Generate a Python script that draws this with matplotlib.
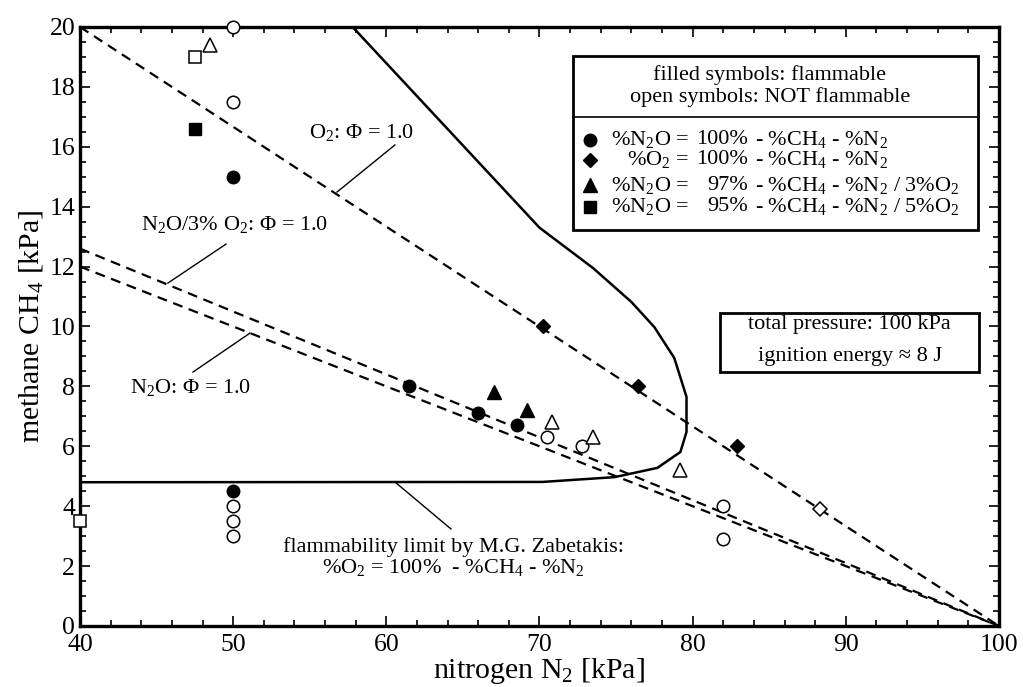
import matplotlib
matplotlib.use("Agg")
import matplotlib.pyplot as plt
from matplotlib.patches import Rectangle
from matplotlib.ticker import MultipleLocator

plt.rcParams["font.family"] = ["Liberation Serif", "DejaVu Serif"]
plt.rcParams["mathtext.fontset"] = "custom"
plt.rcParams["mathtext.rm"] = "Liberation Serif"
plt.rcParams["mathtext.it"] = "Liberation Serif:italic"

# --- data ---
n2o_fill_x = [50.0, 61.5, 66.0, 68.5, 50.0]
n2o_fill_y = [15.0, 8.0, 7.1, 6.7, 4.5]
n2o_open_x = [50.0, 50.0, 70.5, 72.8, 82.0, 82.0, 50.0, 50.0, 50.0]
n2o_open_y = [20.0, 17.5, 6.3, 6.0, 4.0, 2.9, 4.0, 3.5, 3.0]
o2_fill_x = [70.2, 76.4, 82.9]
o2_fill_y = [10.0, 8.0, 6.0]
o2_open_x = [88.3]
o2_open_y = [3.9]
tri_fill_x = [67.0, 69.2]
tri_fill_y = [7.8, 7.2]
tri_open_x = [48.5, 70.8, 73.5, 79.2]
tri_open_y = [19.4, 6.8, 6.3, 5.2]
sq_fill_x = [47.5]
sq_fill_y = [16.6]
sq_open_x = [47.5, 40.0]
sq_open_y = [19.0, 3.5]

# flammability limit (Zabetakis)
zab_x = [40.0, 70.2, 74.9, 77.7, 79.2, 79.6, 79.6, 78.8, 77.5, 76.0, 73.5, 70.0, 57.8]
zab_y = [4.8, 4.81, 4.97, 5.28, 5.81, 6.48, 7.65, 8.95, 9.98, 10.82, 11.95, 13.3, 20.0]

# stoichiometric lines (Phi = 1.0), end points
phi_x = [40.0, 100.0]
phi_o2_y = [20.0, 0.0]
phi_n2o3_y = [12.6, 0.0]
phi_n2o_y = [12.0, 0.0]

# leader lines for the labels
lead_o2 = ([60.56, 56.78], [16.06, 14.49])
lead_n2o3 = ([49.53, 45.74], [12.75, 11.45])
lead_n2o = ([47.38, 51.1], [8.48, 9.78])
lead_zab = ([60.56, 64.22], [4.81, 3.24])

fig = plt.figure(figsize=(10.23, 6.87), dpi=100)
ax = fig.add_axes([0.0782, 0.0888, 0.8983, 0.8719])

dash = dict(color="black", lw=1.6, ls=(0, (4.5, 3)))
ax.plot(phi_x, phi_o2_y, **dash)
ax.plot(phi_x, phi_n2o3_y, **dash)
ax.plot(phi_x, phi_n2o_y, **dash)
ax.plot(zab_x, zab_y, color="black", lw=1.8)

for lx, ly in (lead_o2, lead_n2o3, lead_n2o, lead_zab):
    ax.plot(lx, ly, color="black", lw=1.0)

mk = dict(ls="none", color="black", clip_on=False, zorder=5)
op = dict(ls="none", mfc="white", mec="black", mew=1.1, clip_on=False, zorder=5)
ax.plot(n2o_fill_x, n2o_fill_y, "o", ms=9, **mk)
ax.plot(n2o_open_x, n2o_open_y, "o", ms=9, **op)
ax.plot(o2_fill_x, o2_fill_y, "D", ms=7, **mk)
ax.plot(o2_open_x, o2_open_y, "D", ms=7, **op)
ax.plot(tri_fill_x, tri_fill_y, "^", ms=10, **mk)
ax.plot(tri_open_x, tri_open_y, "^", ms=10, **op)
ax.plot(sq_fill_x, sq_fill_y, "s", ms=9, **mk)
ax.plot(sq_open_x, sq_open_y, "s", ms=9, **op)

ax.set_xlim(40, 100)
ax.set_ylim(0, 20)
ax.xaxis.set_major_locator(MultipleLocator(10))
ax.xaxis.set_minor_locator(MultipleLocator(2))
ax.yaxis.set_major_locator(MultipleLocator(2))
ax.yaxis.set_minor_locator(MultipleLocator(0.5))
ax.tick_params(which="both", direction="in", top=True, right=True,
               labelsize=18.5, width=1.2)
ax.tick_params(which="major", length=7)
ax.tick_params(which="minor", length=4)
ax.tick_params(axis="x", pad=6)
for sp in ax.spines.values():
    sp.set_linewidth(2.4)

ax.set_xlabel("nitrogen N$_2$ [kPa]", fontsize=21.5, labelpad=0)
ax.set_ylabel("methane CH$_4$ [kPa]", fontsize=21.5, labelpad=3)

# line labels
fs = 16
ax.text(58.41, 16.49, "O$_2$: Φ = 1.0", fontsize=fs, ha="center", va="center")
ax.text(50.12, 13.39, "N$_2$O/3% O$_2$: Φ = 1.0", fontsize=fs, ha="center", va="center")
ax.text(47.25, 7.95, "N$_2$O: Φ = 1.0", fontsize=fs, ha="center", va="center")
ax.text(64.41, 2.64, "flammability limit by M.G. Zabetakis:", fontsize=fs,
        ha="center", va="center")
ax.text(64.35, 1.94, "%O$_2$ = 100%  - %CH$_4$ - %N$_2$", fontsize=fs,
        ha="center", va="center")

# symbol legend box
ax.add_patch(Rectangle((72.18, 13.22), 26.44, 5.81, fill=False, lw=2.0,
                       ec="black", zorder=6))
ax.plot([72.18, 98.62], [16.99, 16.99], color="black", lw=1.2, zorder=6)
lfs = 16
ax.text(85.04, 18.40, "filled symbols: flammable", fontsize=lfs, ha="center", va="center")
ax.text(85.04, 17.66, "open symbols: NOT flammable", fontsize=lfs, ha="center", va="center")

leg_y = [16.23, 15.56, 14.72, 13.99]
leg_marker = ["o", "D", "^", "s"]
leg_ms = [9, 7, 10, 9]
leg_left = ["%N$_2$O =", "%O$_2$ =", "%N$_2$O =", "%N$_2$O ="]
leg_pct = ["100%", "100%", "97%", "95%"]
leg_rest = ["- %CH$_4$ - %N$_2$", "- %CH$_4$ - %N$_2$",
            "- %CH$_4$ - %N$_2$ / 3%O$_2$", "- %CH$_4$ - %N$_2$ / 5%O$_2$"]
for y, m, ms, a, b, c in zip(leg_y, leg_marker, leg_ms, leg_left, leg_pct, leg_rest):
    ax.plot([73.29], [y], m, ms=ms, color="black", zorder=7)
    ax.text(79.75, y, a, fontsize=lfs, ha="right", va="center")
    ax.text(83.6, y, b, fontsize=lfs, ha="right", va="center")
    ax.text(84.05, y, c, fontsize=lfs, ha="left", va="center")

# conditions box
ax.add_patch(Rectangle((81.78, 8.48), 16.9, 1.97, fill=False, lw=2.0,
                       ec="black", zorder=6))
ax.text(90.26, 10.05, "total pressure: 100 kPa", fontsize=lfs, ha="center", va="center")
ax.text(90.26, 9.0, "ignition energy ≈ 8 J", fontsize=lfs, ha="center", va="center")

fig.savefig("out.png", dpi=100)
